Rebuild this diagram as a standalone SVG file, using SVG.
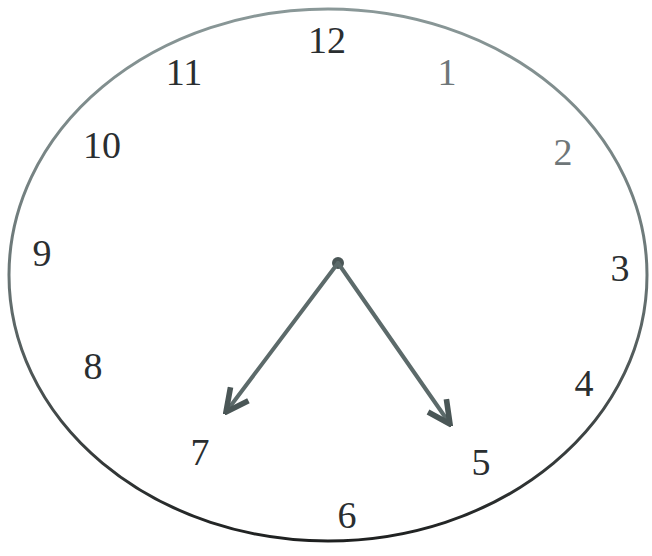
<svg xmlns="http://www.w3.org/2000/svg" width="652" height="556" viewBox="0 0 652 556">
  <style>
    .num { font-family: "Liberation Serif", "Times New Roman", serif; font-size: 38px; text-anchor: middle; dominant-baseline: central; fill: #2a2e30; }
    .faint { fill: #6e7678; }
    .hand { stroke: #5c6a6a; stroke-width: 4; fill: none; stroke-linecap: round; }
  </style>
  <defs>
    <linearGradient id="rim" x1="0" y1="0" x2="0" y2="1">
      <stop offset="0" stop-color="#8a9898"/>
      <stop offset="0.5" stop-color="#6a7676"/>
      <stop offset="1" stop-color="#1e2020"/>
    </linearGradient>
    <marker id="arrow" viewBox="0 0 10 10" refX="9" refY="5" markerWidth="7" markerHeight="7" orient="auto" markerUnits="strokeWidth">
      <path d="M1,1 L9,5 L1,9" fill="none" stroke="#4a5656" stroke-width="2"/>
    </marker>
  </defs>
  <rect width="652" height="556" fill="#ffffff"/>
  <g id="dial">
    <ellipse cx="328" cy="275" rx="319" ry="266" fill="none" stroke="url(#rim)" stroke-width="3"/>
  </g>
  <g id="numbers">
    <text class="num" x="327" y="40">12</text>
    <text class="num" x="184" y="72">11</text>
    <text class="num faint" x="447" y="72">1</text>
    <text class="num" x="102" y="145">10</text>
    <text class="num faint" x="563" y="152">2</text>
    <text class="num" x="42" y="253">9</text>
    <text class="num" x="620" y="268">3</text>
    <text class="num" x="93" y="366">8</text>
    <text class="num" x="584" y="383">4</text>
    <text class="num" x="200" y="452">7</text>
    <text class="num" x="481" y="462">5</text>
    <text class="num" x="347" y="515">6</text>
  </g>
  <g id="connectors">
    <circle cx="338" cy="263" r="6" fill="#4a5656"/>
    <line class="hand" x1="338" y1="263" x2="226" y2="412" marker-end="url(#arrow)"/>
    <line class="hand" x1="338" y1="263" x2="450" y2="424" marker-end="url(#arrow)"/>
  </g>
</svg>
